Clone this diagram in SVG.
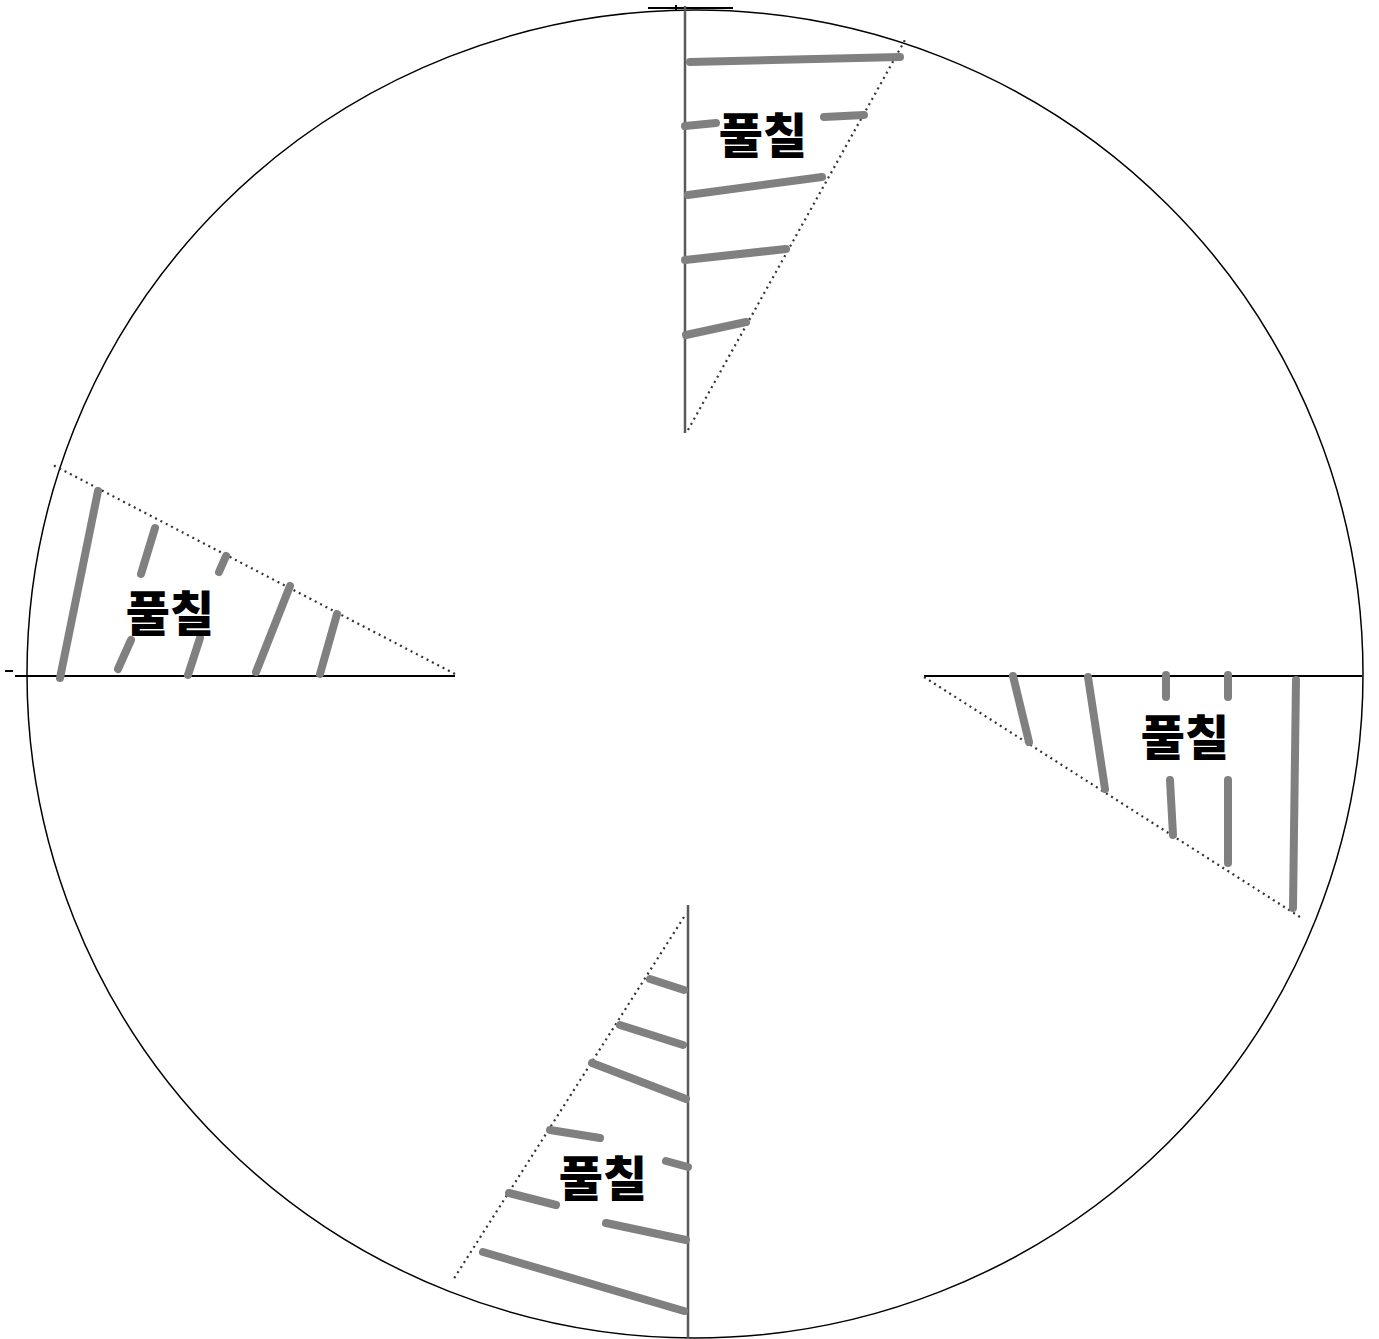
<svg xmlns="http://www.w3.org/2000/svg" width="1379" height="1339" viewBox="0 0 1379 1339">
<style>
.axis{stroke:#000;stroke-width:2;fill:none}
.vaxis{stroke:#5a5a5a;stroke-width:2.5;fill:none}
.dot{stroke:#333;stroke-width:2.2;stroke-dasharray:2 4;fill:none}
.hatch{stroke:#808080;stroke-width:8;stroke-linecap:round;fill:none}
.lbl{font-family:"Noto Sans CJK KR","Noto Sans",sans-serif;font-weight:900;font-size:48px;fill:#000;text-anchor:middle}
</style>
<rect width="1379" height="1339" fill="#fff"/>
<g id="circle">
<ellipse cx="695" cy="674" rx="668" ry="664" fill="none" stroke="#000" stroke-width="1.5"/>
</g>
<g id="connectors">
<line class="axis" x1="648" y1="8" x2="733" y2="8" stroke-width="1.5"/>
<line class="axis" x1="676" y1="5" x2="676" y2="10" stroke-width="1.5"/>
<line class="axis" x1="5" y1="671" x2="13" y2="671" stroke-width="1.5"/>
</g>
<g id="sector-top">
<line class="vaxis" x1="685" y1="6" x2="685" y2="433"/>
<line class="dot" x1="688" y1="430" x2="905" y2="40"/>
<line class="hatch" x1="690" y1="62" x2="900" y2="57"/>
<line class="hatch" x1="685" y1="126" x2="716" y2="123"/>
<line class="hatch" x1="824" y1="117" x2="864" y2="115"/>
<line class="hatch" x1="688" y1="195" x2="822" y2="177"/>
<line class="hatch" x1="685" y1="260" x2="786" y2="249"/>
<line class="hatch" x1="686" y1="335" x2="746" y2="322"/>
<text class="lbl" x="763" y="153">풀칠</text>
</g>
<g id="sector-left">
<line class="axis" x1="15" y1="676" x2="455" y2="676"/>
<line class="dot" x1="455" y1="674" x2="53" y2="465"/>
<line class="hatch" x1="60" y1="678" x2="98" y2="491"/>
<line class="hatch" x1="118" y1="669" x2="131" y2="640"/>
<line class="hatch" x1="141" y1="574" x2="155" y2="528"/>
<line class="hatch" x1="188" y1="675" x2="200" y2="638"/>
<line class="hatch" x1="219" y1="572" x2="226" y2="556"/>
<line class="hatch" x1="256" y1="672" x2="290" y2="586"/>
<line class="hatch" x1="320" y1="674" x2="337" y2="614"/>
<text class="lbl" x="170" y="631">풀칠</text>
</g>
<g id="sector-right">
<line class="axis" x1="924" y1="676" x2="1362" y2="676"/>
<line class="dot" x1="924" y1="677" x2="1300" y2="917"/>
<line class="hatch" x1="1013" y1="676" x2="1029" y2="742"/>
<line class="hatch" x1="1088" y1="677" x2="1105" y2="789"/>
<line class="hatch" x1="1166" y1="675" x2="1166" y2="697"/>
<line class="hatch" x1="1170" y1="780" x2="1173" y2="835"/>
<line class="hatch" x1="1228" y1="675" x2="1228" y2="697"/>
<line class="hatch" x1="1228" y1="780" x2="1228" y2="863"/>
<line class="hatch" x1="1296" y1="680" x2="1293" y2="908"/>
<text class="lbl" x="1185" y="755">풀칠</text>
</g>
<g id="sector-bottom">
<line class="vaxis" x1="688" y1="905" x2="688" y2="1339"/>
<line class="dot" x1="684" y1="917" x2="453" y2="1280"/>
<line class="hatch" x1="650" y1="979" x2="684" y2="990"/>
<line class="hatch" x1="620" y1="1025" x2="683" y2="1045"/>
<line class="hatch" x1="592" y1="1063" x2="686" y2="1099"/>
<line class="hatch" x1="550" y1="1130" x2="600" y2="1138"/>
<line class="hatch" x1="666" y1="1161" x2="688" y2="1167"/>
<line class="hatch" x1="509" y1="1193" x2="556" y2="1205"/>
<line class="hatch" x1="606" y1="1223" x2="686" y2="1240"/>
<line class="hatch" x1="483" y1="1252" x2="684" y2="1311"/>
<text class="lbl" x="603" y="1196">풀칠</text>
</g>
</svg>
